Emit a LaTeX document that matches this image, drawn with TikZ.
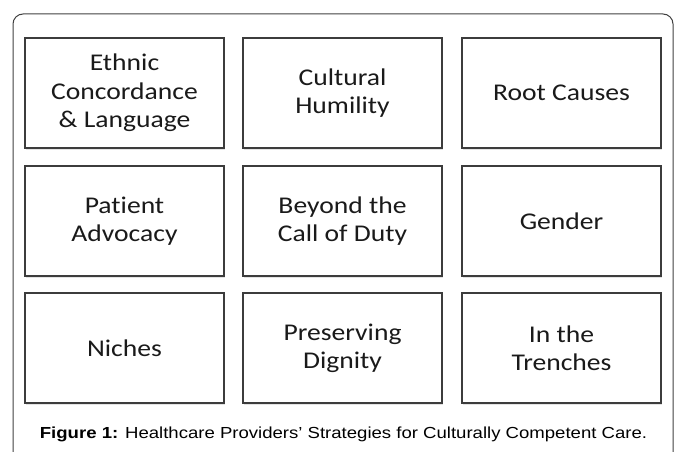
\documentclass[tikz,border=0pt]{standalone}
\usepackage{fontspec}
\setmainfont[FakeStretch=1.16]{Liberation Sans}
\newfontfamily\boxfont[FakeStretch=1.15,Ligatures=NoCommon]{Carlito}
\usetikzlibrary{shadows}
\definecolor{edge}{HTML}{3C3C3C}
\definecolor{ink}{HTML}{1A1A1A}
\tikzset{
  strategy/.style={draw=edge, line width=1.3bp, fill=white, text=ink,
    minimum width=199bp, minimum height=110bp, align=center, inner sep=0pt,
    font=\boxfont\fontsize{24bp}{28.3bp}\selectfont,
    drop shadow={opacity=0.22, shadow xshift=0.6bp, shadow yshift=-2bp}},
  frame/.style={draw=black!75, line width=1bp, rounded corners=10bp}
}

\begin{document}
\begin{tikzpicture}[x=1bp,y=-1bp]
\useasboundingbox (0,0) rectangle (677,452);
\clip (0,0) rectangle (677,452);
\draw[frame] (13,14) rectangle (673,480);

% first row
\node[strategy] (ethnic)   at (124.5,93) {Ethnic\\Concordance\\\& Language};
\node[strategy] (humility) at (342.5,93) {Cultural\\Humility};
\node[strategy] (roots)    at (561.5,93) {Root Causes};
% second row
\node[strategy] (advocacy) at (124.5,221) {Patient\\Advocacy};
\node[strategy] (beyond)   at (342.5,221) {Beyond the\\Call of Duty};
\node[strategy] (gender)   at (561.5,221) {Gender};
% third row
\node[strategy] (niches)   at (124.5,348) {Niches};
\node[strategy] (dignity)  at (342.5,348) {Preserving\\Dignity};
\node[strategy] (trenches) at (561.5,348) {In the\\Trenches};

\node[font=\fontsize{16bp}{19bp}\selectfont, text=black] (caption) at (343.5,434)
  {\textbf{Figure 1:} Healthcare Providers’ Strategies for Culturally Competent Care.};
\end{tikzpicture}
\end{document}
